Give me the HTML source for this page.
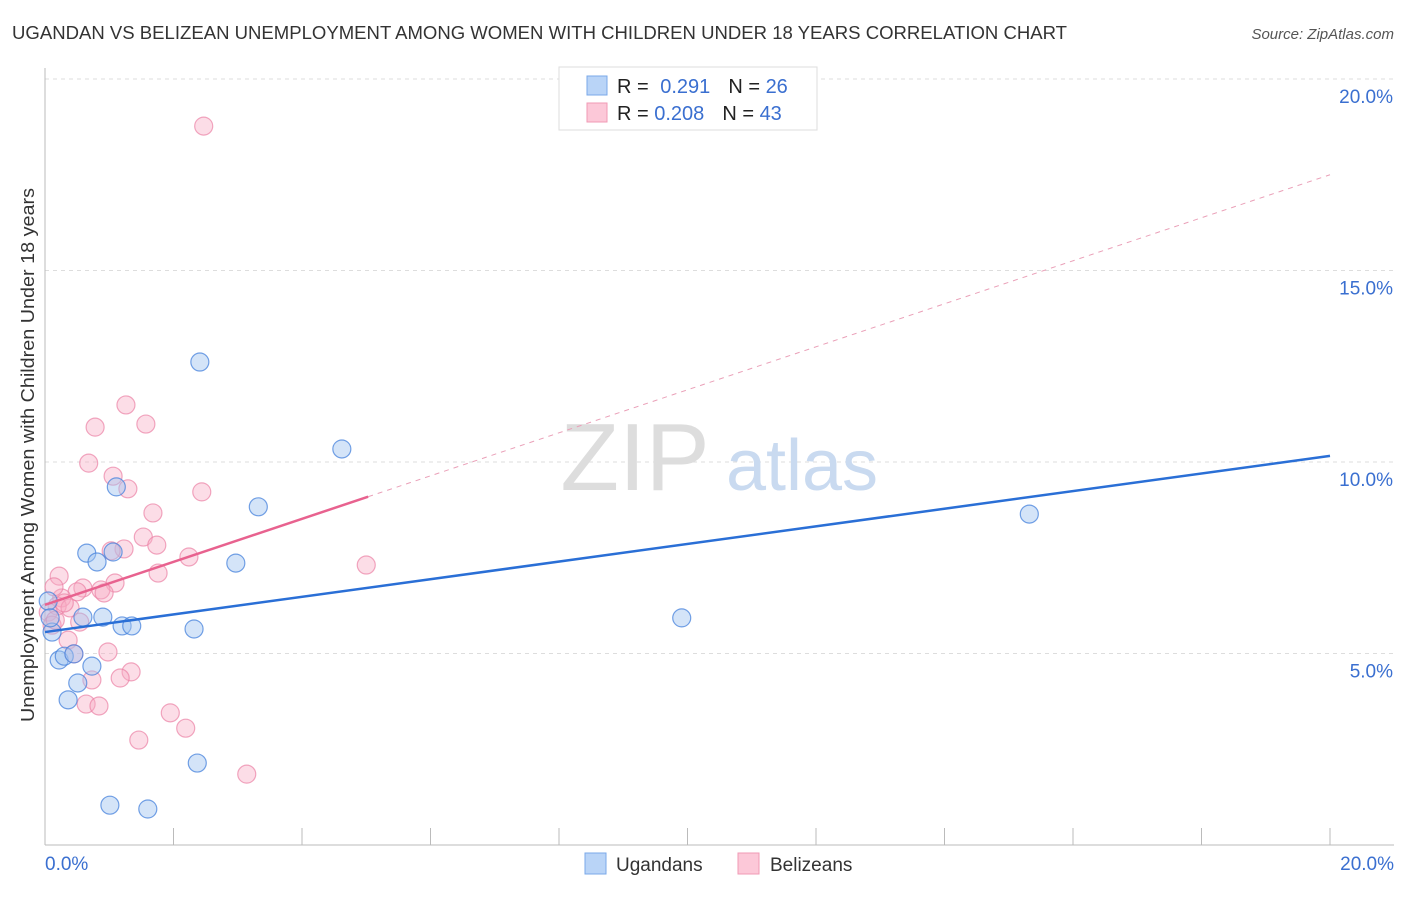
<!DOCTYPE html>
<html><head><meta charset="utf-8"><style>
body{margin:0;background:#fff;font-family:"Liberation Sans",sans-serif;}
svg text{font-family:"Liberation Sans",sans-serif;}
</style></head><body>
<svg id="chart" width="1406" height="892">
<text x="12" y="39" font-size="18.5" fill="#333" textLength="1055" lengthAdjust="spacingAndGlyphs">UGANDAN VS BELIZEAN UNEMPLOYMENT AMONG WOMEN WITH CHILDREN UNDER 18 YEARS CORRELATION CHART</text>
<text x="1394" y="39" font-size="15" fill="#555" font-style="italic" text-anchor="end">Source: ZipAtlas.com</text>
<text transform="translate(34,455) rotate(-90)" font-size="18.5" fill="#333" text-anchor="middle" textLength="534" lengthAdjust="spacingAndGlyphs">Unemployment Among Women with Children Under 18 years</text>
<g id="grid"></g>
<g><text x="635" y="490" font-size="96" fill="#ddd" font-family="Liberation Serif" text-anchor="middle">ZIP</text><text x="802" y="490" font-size="72" fill="#c9daf0" text-anchor="middle">atlas</text></g>
<g id="marks"></g>
<g>
<rect x="559" y="67" width="258" height="63" fill="#fff" stroke="#ddd"/>
<rect x="587" y="76" width="20" height="19" fill="#b9d4f7" stroke="#7aa8e8"/>
<rect x="587" y="103" width="20" height="19" fill="#fcc8d8" stroke="#f09ab5"/>
<text x="617" y="93" font-size="20" fill="#222">R = <tspan fill="#3a6fd0" dx="6">0.291</tspan><tspan dx="18" fill="#222">N = </tspan><tspan fill="#3a6fd0">26</tspan></text>
<text x="617" y="120" font-size="20" fill="#222">R = <tspan fill="#3a6fd0">0.208</tspan><tspan dx="18" fill="#222">N = </tspan><tspan fill="#3a6fd0">43</tspan></text>
</g>
<g>
<rect x="585" y="853" width="21" height="21" fill="#b9d4f7" stroke="#7aa8e8"/>
<text x="616" y="871" font-size="19" fill="#333">Ugandans</text>
<rect x="738" y="853" width="21" height="21" fill="#fcc8d8" stroke="#f09ab5"/>
<text x="770" y="871" font-size="19" fill="#333">Belizeans</text>
</g>
</svg>
<script>
const blueX=[2.41,4.62,3.32,15.32,1.11,0.65,0.81,1.06,2.97,9.91,0.90,0.59,1.20,1.35,2.32,0.05,0.11,0.08,0.22,0.30,0.45,0.73,0.51,0.36,2.37,1.01,1.60];
const blueY=[12.61,10.34,8.83,8.64,9.35,7.62,7.39,7.65,7.36,5.93,5.95,5.95,5.72,5.72,5.64,6.37,5.56,5.93,4.83,4.93,4.99,4.67,4.23,3.79,2.14,1.04,0.94];
const pinkX=[2.47,1.26,1.57,0.78,0.68,1.06,1.29,2.44,1.68,1.53,1.23,1.74,1.03,2.24,1.76,5.00,0.22,0.59,1.09,0.87,0.92,0.50,0.26,0.14,0.19,0.39,0.05,0.54,0.11,0.36,0.98,0.45,1.34,0.73,1.17,0.64,0.84,1.95,2.19,1.46,3.14,0.16,0.30];
const pinkY=[18.77,11.49,10.99,10.91,9.97,9.63,9.30,9.22,8.67,8.04,7.73,7.83,7.68,7.52,7.10,7.31,7.02,6.71,6.84,6.66,6.58,6.61,6.45,6.74,6.24,6.19,6.08,5.82,5.74,5.35,5.04,4.99,4.52,4.31,4.36,3.68,3.63,3.45,3.05,2.74,1.85,5.87,6.32];
const yTicks=[5,10,15,20];
const yTickLabels=["5.0%","10.0%","15.0%","20.0%"];
const xTicks=[0,2,4,6,8,10,12,14,16,18,20];
const blueTrend=[5.56,10.16];
const pinkTrend=[6.27,17.5];
const pinkSolidEnd=5.03;

const NS="http://www.w3.org/2000/svg";
const sx=v=>45+v*(1285/20);
const sy=v=>845-v*38.3;
const grid=document.getElementById('grid'), marks=document.getElementById('marks');
function mk(tag,attrs,parent){const e=document.createElementNS(NS,tag);for(const k in attrs)e.setAttribute(k,attrs[k]);parent.appendChild(e);return e;}
yTicks.forEach((t,i)=>{
  const l=mk('line',{x1:45,x2:1394,y1:sy(t),y2:sy(t),stroke:'#ddd','stroke-dasharray':'4,4'},grid);
  
  
  const tx=mk('text',{x:1393,y:sy(t)+24,'font-size':19,fill:'#3a6fd0','text-anchor':'end'},grid);
  tx.textContent=yTickLabels[i];
  
  
});
const ax=mk('line',{x1:45,x2:1394,y1:845,y2:845,stroke:'#bbb'},grid);


const ay=mk('line',{x1:45,x2:45,y1:68,y2:845,stroke:'#bbb'},grid);


xTicks.forEach(t=>{
  const l=mk('line',{x1:sx(t),x2:sx(t),y1:828,y2:845,stroke:'#bbb'},grid);
  
  
});
[[0,'0.0%','start',45],[20,'20.0%','end',1394]].forEach(a=>{
  const tx=mk('text',{x:a[3],y:870,'font-size':19,fill:'#3a6fd0','text-anchor':a[2]},grid);
  tx.textContent=a[1];
  
  
});
pinkX.forEach((x,i)=>{
  const c=mk('circle',{cx:sx(x),cy:sy(pinkY[i]),r:9,fill:'rgba(247,170,195,0.4)',stroke:'rgba(235,130,165,0.7)','stroke-width':1.2},marks);
  
  
});
blueX.forEach((x,i)=>{
  const c=mk('circle',{cx:sx(x),cy:sy(blueY[i]),r:9,fill:'rgba(160,195,240,0.45)',stroke:'rgba(70,130,220,0.75)','stroke-width':1.2},marks);
  
  
});
const bt=mk('line',{x1:sx(0),y1:sy(blueTrend[0]),x2:sx(20),y2:sy(blueTrend[1]),stroke:'#2a6fd6','stroke-width':2.5},marks);


const pAt=x=>pinkTrend[0]+(pinkTrend[1]-pinkTrend[0])*x/20;
const pd=mk('line',{x1:sx(pinkSolidEnd),y1:sy(pAt(pinkSolidEnd)),x2:sx(20),y2:sy(pinkTrend[1]),stroke:'#eaa0b8','stroke-width':1,'stroke-dasharray':'5,5'},marks);


const ps=mk('line',{x1:sx(0),y1:sy(pinkTrend[0]),x2:sx(pinkSolidEnd),y2:sy(pAt(pinkSolidEnd)),stroke:'#e8628f','stroke-width':2.5},marks);


</script>
</body></html>
